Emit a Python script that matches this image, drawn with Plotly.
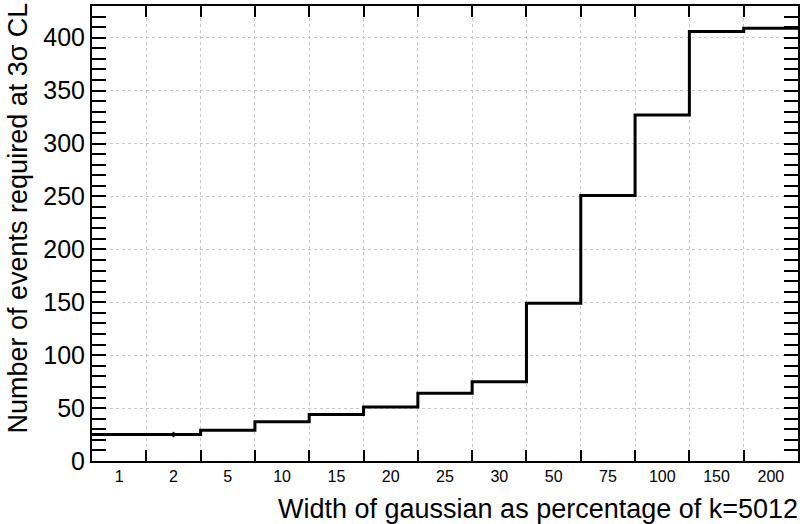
import plotly.graph_objects as go

labels = ["1", "2", "5", "10", "15", "20", "25", "30", "50", "75", "100", "150", "200"]
events = [25, 25, 29, 37, 44, 51, 64, 75, 149, 251, 327, 406, 409]
errors = [0, 2.5, 0, 0, 0, 0, 0, 0, 0, 0, 0, 0, 0]

n = len(labels)
centers = list(range(n))
edges = [i - 0.5 for i in range(n + 1)]
inner_edges = edges[1:-1]

FONT = "Liberation Sans, Arial, sans-serif"

fig = go.Figure()
fig.add_trace(go.Scatter(
    x=edges, y=events + [events[-1]], mode="lines", line_shape="hv",
    line=dict(color="black", width=3), hoverinfo="skip", showlegend=False))
fig.add_trace(go.Scatter(
    x=centers, y=events, mode="markers", marker=dict(size=0.1, color="black"),
    error_y=dict(type="data", array=errors, width=0, thickness=2, color="black"),
    showlegend=False))
fig.add_trace(go.Scatter(x=[centers[0]], y=[0], xaxis="x2", mode="markers",
                         marker=dict(opacity=0), showlegend=False, hoverinfo="skip"))

fig.update_layout(
    width=804, height=524,
    margin=dict(l=92, r=4, t=5, b=63),
    plot_bgcolor="white", paper_bgcolor="white",
    font=dict(family=FONT, color="black"),
    xaxis=dict(
        range=[-0.5, n - 0.5], tickmode="array", tickvals=centers, ticktext=labels,
        ticks="", showgrid=False, zeroline=False,
        tickfont=dict(size=16), showline=True, linecolor="black", linewidth=2, mirror=True,
        minor=dict(tickmode="array", tickvals=inner_edges, ticks="inside", ticklen=11,
                   tickwidth=1.5, tickcolor="black", showgrid=True, gridcolor="#c8c8c8",
                   griddash="dot", gridwidth=1),
    ),
    xaxis2=dict(
        overlaying="x", side="top", range=[-0.5, n - 0.5], tickmode="array",
        tickvals=inner_edges, ticks="inside", ticklen=11, tickwidth=1.5, tickcolor="black",
        showticklabels=False, showgrid=False, zeroline=False,
    ),
    yaxis=dict(
        range=[0, 430], tickmode="linear", tick0=0, dtick=50, ticks="inside", ticklen=14,
        tickwidth=1.5, tickcolor="black", showgrid=True, gridcolor="#c8c8c8", griddash="dot",
        zeroline=False, tickfont=dict(size=25), showline=True, linecolor="black", linewidth=2,
        mirror="allticks",
        minor=dict(dtick=10, tick0=0, ticks="inside", ticklen=7, tickwidth=1.5, tickcolor="black",
                   showgrid=False),
    ),
    annotations=[
        dict(text="Width of gaussian as percentage of k=5012", xref="paper", yref="paper",
             x=1, y=0, xanchor="right", yanchor="top", yshift=-31, xshift=2, showarrow=False,
             font=dict(size=27, family=FONT)),
        dict(text="Number of events required at 3σ CL", xref="paper", yref="paper",
             x=0, y=1, xanchor="left", yanchor="top", xshift=-92, yshift=5,
             textangle=-90, showarrow=False, font=dict(size=27, family=FONT)),
    ],
)

fig.write_html("out.html", config={"displayModeBar": False},
               post_script="document.body.style.margin='0';document.body.style.padding='0';")
